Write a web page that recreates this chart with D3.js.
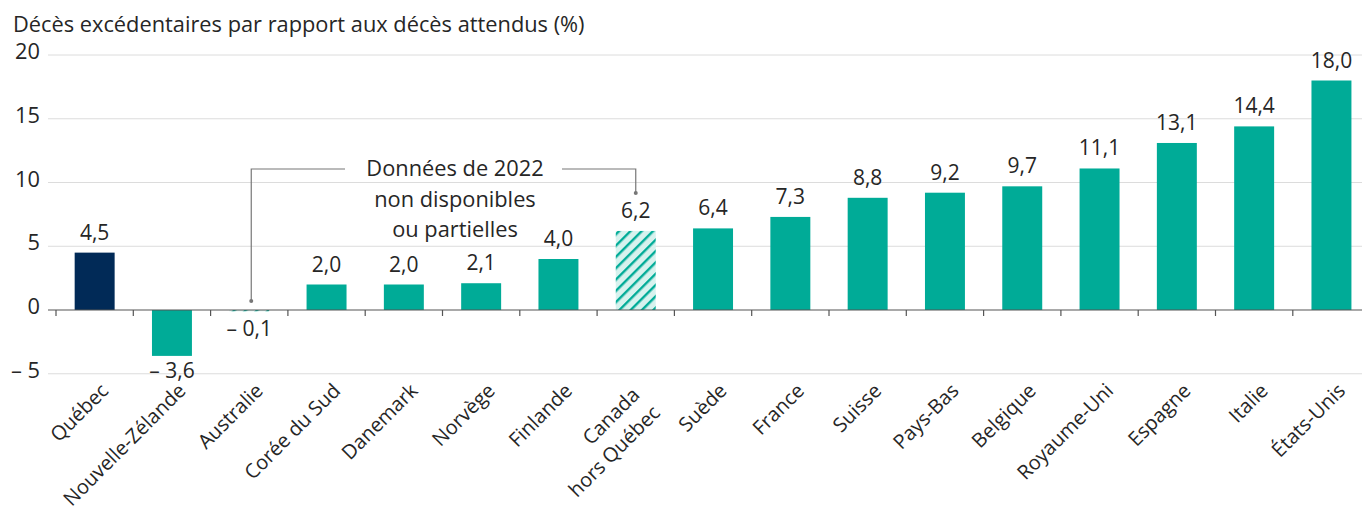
<!DOCTYPE html>
<html>
<head>
  <meta charset="utf-8">
  <script src="https://cdnjs.cloudflare.com/ajax/libs/d3/7.8.5/d3.min.js"></script>
  <title>Décès excédentaires</title>
  <style>
    body { margin: 0; background: #fff; font-family: "Open Sans", sans-serif; }
    text { fill: #262626; font-weight: 400; font-size: 21.8px; }
    .grid line { stroke: #dcdcdc; }
  </style>
</head>
<body>
<script>
// data
var countries = ["Québec", "Nouvelle-Zélande", "Australie", "Corée du Sud", "Danemark", "Norvège",
  "Finlande", "Canada|hors Québec", "Suède", "France", "Suisse", "Pays-Bas", "Belgique",
  "Royaume-Uni", "Espagne", "Italie", "États-Unis"];
var values = [4.5, -3.6, -0.1, 2.0, 2.0, 2.1, 4.0, 6.2, 6.4, 7.3, 8.8, 9.2, 9.7, 11.1, 13.1, 14.4, 18.0];
var partial = ["Australie", "Canada|hors Québec"];   // hatched bars
var yTicks = [-5, 0, 5, 10, 15, 20];
var title = "Décès excédentaires par rapport aux décès attendus (%)";
var note = ["Données de 2022", "non disponibles", "ou partielles"];

var W = 1362, H = 519;
var svg = d3.select("body").append("svg").attr("width", W).attr("height", H);

var x = d3.scaleBand().domain(countries).range([56, 56 + 77.3 * 17]).paddingInner(0.483).paddingOuter(0.2415);
var y = d3.scaleLinear().domain([-5, 20]).range([373.75, 55]);

var fmt = function(v) {
  var s = Math.abs(v).toFixed(1).replace(".", ",");
  return v < 0 ? "\u2013 " + s : s;
};

// hatch pattern
var pat = svg.append("defs").append("pattern")
  .attr("id", "hatch").attr("patternUnits", "userSpaceOnUse")
  .attr("width", 8).attr("height", 8).attr("patternTransform", "rotate(45)");
pat.append("rect").attr("width", 8).attr("height", 8).attr("fill", "#d7f2ee");
pat.append("rect").attr("width", 2.4).attr("height", 8).attr("fill", "#00ab97");

// title
svg.append("text").attr("x", 13).attr("y", 32).text(title);

// grid
svg.append("g").attr("class", "grid").selectAll("line")
  .data(yTicks.filter(function(d) { return d !== 0; }))
  .enter().append("line")
  .attr("x1", 48).attr("x2", W)
  .attr("y1", function(d) { return y(d); }).attr("y2", function(d) { return y(d); });

// y axis labels
svg.append("g").selectAll("text").data(yTicks).enter().append("text")
  .attr("x", 40).attr("y", function(d) { return y(d) + 4; })
  .attr("text-anchor", "end")
  .text(function(d) { return d < 0 ? "\u2013 " + Math.abs(d) : d; });

// bars
svg.append("g").selectAll("rect").data(countries).enter().append("rect")
  .attr("x", function(d) { return x(d); })
  .attr("width", x.bandwidth())
  .attr("y", function(d, i) { return y(Math.max(0, values[i])); })
  .attr("height", function(d, i) { return Math.abs(y(values[i]) - y(0)); })
  .attr("fill", function(d, i) {
    if (i === 0) return "#012a57";
    return partial.indexOf(d) >= 0 ? "url(#hatch)" : "#00ab97";
  });

// zero line + ticks
svg.append("line").attr("x1", 48).attr("x2", W).attr("y1", y(0)).attr("y2", y(0))
  .attr("stroke", "#555").attr("stroke-width", 1.2);
var edges = countries.map(function(d) { return x(d) - x.step() * x.paddingInner() / 2; });
svg.append("g").selectAll("line").data(edges).enter().append("line")
  .attr("x1", function(d) { return d; }).attr("x2", function(d) { return d; })
  .attr("y1", y(0)).attr("y2", y(0) + 6).attr("stroke", "#555").attr("stroke-width", 1.2);

// value labels
svg.append("g").selectAll("text").data(countries).enter().append("text")
  .attr("x", function(d) { return x(d) + x.bandwidth() / 2; })
  .attr("y", function(d, i) {
    var v = values[i];
    return v >= 0 ? y(v) - 13 : Math.max(y(v), y(0) + 4) + 22;
  })
  .attr("text-anchor", "middle").style("font-size", "21px")
  .text(function(d, i) { return fmt(values[i]); });

// x labels, rotated
var lab = svg.append("g").selectAll("text").data(countries).enter().append("text")
  .attr("transform", function(d) {
    return "translate(" + (x(d) + x.bandwidth() / 2 + 15) + "," + 392 + ") rotate(-45)";
  })
  .attr("text-anchor", "end").style("font-size", "20px");
lab.each(function(d) {
  var parts = d.split("|");
  var t = d3.select(this);
  if (parts.length === 1) { t.text(d); return; }
  parts.forEach(function(p, j) {
    t.append("tspan").attr("x", j === 0 ? -10 : -8).attr("dy", j === 0 ? -4 : 27).text(p);
  });
});

// annotation
var cx = 455;
svg.append("g").selectAll("text").data(note).enter().append("text")
  .attr("x", cx).attr("y", function(d, i) { return 176 + i * 30.5; })
  .attr("text-anchor", "middle")
  .text(function(d) { return d; });
var aX = x("Australie") + x.bandwidth() / 2 + 2;
var cX = x("Canada|hors Québec") + x.bandwidth() / 2;
var ann = svg.append("g").attr("fill", "none").attr("stroke", "#777").attr("stroke-width", 1.2);
ann.append("path").attr("d", "M345,169H" + aX + "V301");
ann.append("path").attr("d", "M562,169H" + cX + "V193");
svg.append("circle").attr("cx", aX).attr("cy", 301).attr("r", 2).attr("fill", "#777");
svg.append("circle").attr("cx", cX).attr("cy", 193).attr("r", 2).attr("fill", "#777");
</script>
</body>
</html>
